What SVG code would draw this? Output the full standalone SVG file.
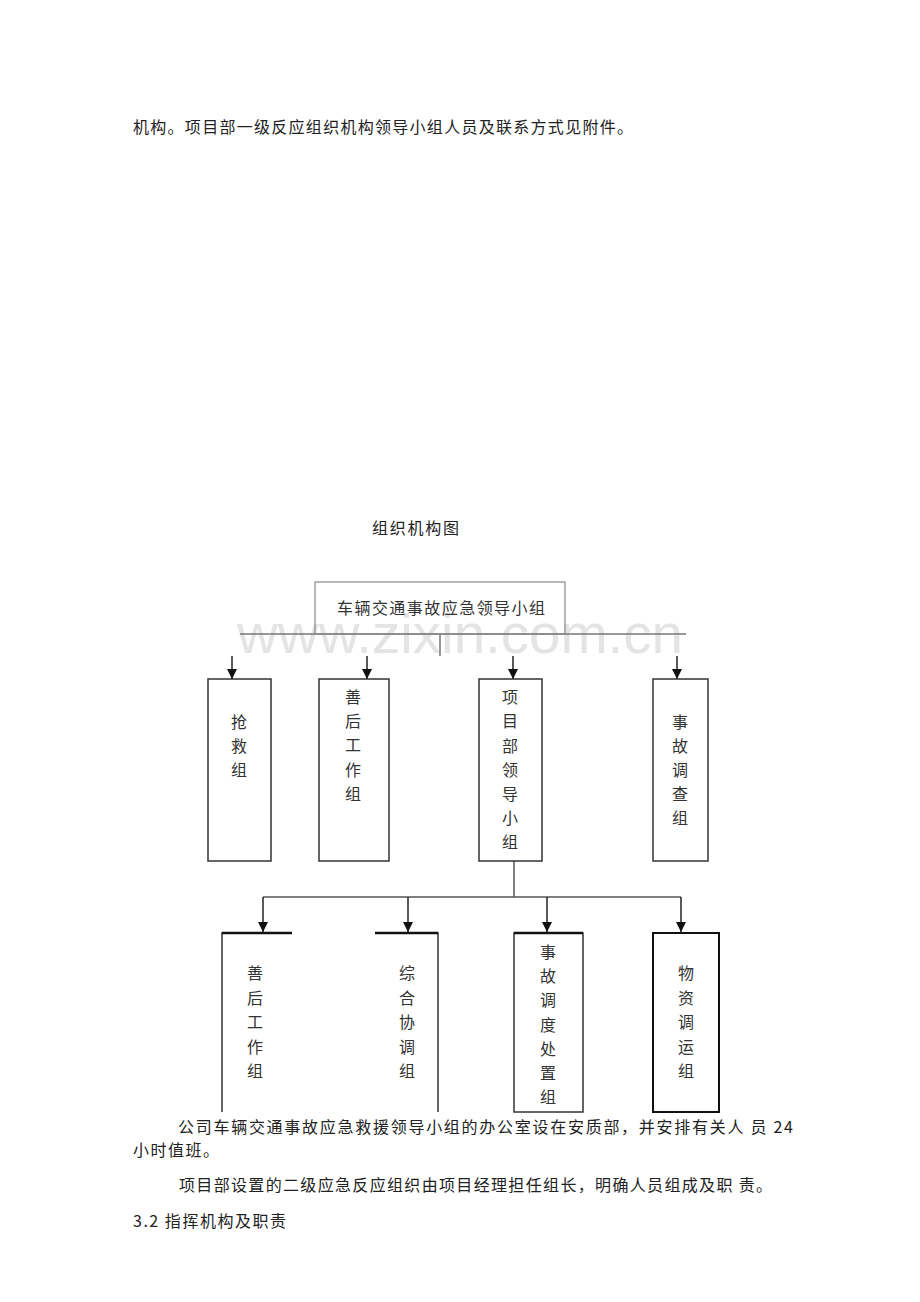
<svg xmlns="http://www.w3.org/2000/svg" width="920" height="1302" viewBox="0 0 920 1302">
<style>
.t{font-family:"Noto Sans CJK SC","Liberation Serif",sans-serif;font-size:16px;fill:#222}
.v{font-family:"Noto Sans CJK SC",sans-serif;font-size:16px;fill:#333;text-anchor:middle}
.box{fill:none;stroke:#333;stroke-width:1.5}
.boxb{fill:none;stroke:#111;stroke-width:2}
.ln{fill:none;stroke:#555;stroke-width:1.5}
.arr{fill:none;stroke:#222;stroke-width:1.5;marker-end:url(#ah)}
.wm{font-family:"Liberation Sans",Arial,sans-serif;font-size:56px;fill:#e4e4e4}
</style>
<defs>
<marker id="ah" viewBox="0 0 10 10" refX="10" refY="5" markerWidth="10" markerHeight="10" markerUnits="userSpaceOnUse" orient="auto">
<path d="M0,0 L10,5 L0,10 Z" fill="#111"/>
</marker>
</defs>
<rect width="920" height="1302" fill="#fff"/>

<text class="t" x="133" y="133" textLength="500" lengthAdjust="spacing">机构。项目部一级反应组织机构领导小组人员及联系方式见附件。</text>
<text class="t" x="372" y="534" textLength="87" lengthAdjust="spacing">组织机构图</text>

<text class="wm" x="237" y="653" textLength="446" lengthAdjust="spacingAndGlyphs">www.zixin.com.cn</text>

<g id="connectors">
<line class="ln" x1="240" y1="634" x2="686" y2="634" style="stroke:#777"/>
<line class="ln" x1="440" y1="634" x2="440" y2="656" style="stroke:#777"/>
<line class="arr" x1="232" y1="656" x2="232" y2="679"/>
<line class="arr" x1="367" y1="656" x2="367" y2="679"/>
<line class="arr" x1="513" y1="656" x2="513" y2="679"/>
<line class="arr" x1="677" y1="656" x2="677" y2="679"/>
<line class="ln" x1="514" y1="861" x2="514" y2="897"/>
<line class="ln" x1="263" y1="897" x2="681" y2="897"/>
<line class="arr" x1="263" y1="897" x2="263" y2="932"/>
<line class="arr" x1="408" y1="897" x2="408" y2="932"/>
<line class="arr" x1="547" y1="897" x2="547" y2="932"/>
<line class="arr" x1="681" y1="897" x2="681" y2="932"/>
</g>

<g id="top">
<rect x="315" y="582" width="250" height="52" fill="none" stroke="#888" stroke-width="1.2"/>
<text class="t" x="337" y="614" textLength="208" lengthAdjust="spacing" style="fill:#333">车辆交通事故应急领导小组</text>
</g>

<g id="n1">
<rect class="box" x="208" y="679" width="63" height="182"/>
<text class="v" x="239"><tspan x="239" y="728">抢</tspan><tspan x="239" y="752">救</tspan><tspan x="239" y="776">组</tspan></text>
</g>
<g id="n2">
<rect class="box" x="319" y="679" width="70" height="182"/>
<text class="v" x="353"><tspan x="353" y="703">善</tspan><tspan x="353" y="727">后</tspan><tspan x="353" y="751">工</tspan><tspan x="353" y="776">作</tspan><tspan x="353" y="800">组</tspan></text>
</g>
<g id="n3">
<rect class="box" x="479" y="679" width="63" height="182"/>
<text class="v" x="510"><tspan x="510" y="703">项</tspan><tspan x="510" y="727">目</tspan><tspan x="510" y="752">部</tspan><tspan x="510" y="776">领</tspan><tspan x="510" y="800">导</tspan><tspan x="510" y="824">小</tspan><tspan x="510" y="848">组</tspan></text>
</g>
<g id="n4">
<rect class="box" x="653" y="679" width="55" height="182"/>
<text class="v" x="680"><tspan x="680" y="728">事</tspan><tspan x="680" y="752">故</tspan><tspan x="680" y="776">调</tspan><tspan x="680" y="800">查</tspan><tspan x="680" y="824">组</tspan></text>
</g>

<g id="m1">
<path d="M222,1112 V933 H292" fill="none" stroke="#333" stroke-width="1.5"/>
<line x1="222" y1="933" x2="292" y2="933" stroke="#111" stroke-width="2.5"/>
<text class="v" x="255"><tspan x="255" y="979">善</tspan><tspan x="255" y="1004">后</tspan><tspan x="255" y="1028">工</tspan><tspan x="255" y="1053">作</tspan><tspan x="255" y="1077">组</tspan></text>
</g>
<g id="m2">
<path d="M375,933 H438 V1112" fill="none" stroke="#333" stroke-width="1.5"/>
<line x1="375" y1="933" x2="438" y2="933" stroke="#111" stroke-width="2.5"/>
<text class="v" x="407"><tspan x="407" y="979">综</tspan><tspan x="407" y="1004">合</tspan><tspan x="407" y="1028">协</tspan><tspan x="407" y="1053">调</tspan><tspan x="407" y="1077">组</tspan></text>
</g>
<g id="m3">
<rect class="box" x="514" y="933" width="69" height="179"/>
<line x1="514" y1="933" x2="583" y2="933" stroke="#111" stroke-width="2.5"/>
<text class="v" x="548"><tspan x="548" y="958">事</tspan><tspan x="548" y="982">故</tspan><tspan x="548" y="1006">调</tspan><tspan x="548" y="1031">度</tspan><tspan x="548" y="1055">处</tspan><tspan x="548" y="1079">置</tspan><tspan x="548" y="1103">组</tspan></text>
</g>
<g id="m4">
<rect class="boxb" x="653" y="933" width="66" height="179"/>
<text class="v" x="686"><tspan x="686" y="979">物</tspan><tspan x="686" y="1004">资</tspan><tspan x="686" y="1028">调</tspan><tspan x="686" y="1053">运</tspan><tspan x="686" y="1077">组</tspan></text>
</g>

<text class="t" x="178" y="1133" textLength="615" lengthAdjust="spacing">公司车辆交通事故应急救援领导小组的办公室设在安质部，并安排有关人 员 24</text>
<text class="t" x="133" y="1156" textLength="86" lengthAdjust="spacing">小时值班。</text>
<text class="t" x="179" y="1191" textLength="593" lengthAdjust="spacing">项目部设置的二级应急反应组织由项目经理担任组长，明确人员组成及职 责。</text>
<text class="t" x="133" y="1227" textLength="153" lengthAdjust="spacing">3.2 指挥机构及职责</text>
</svg>
